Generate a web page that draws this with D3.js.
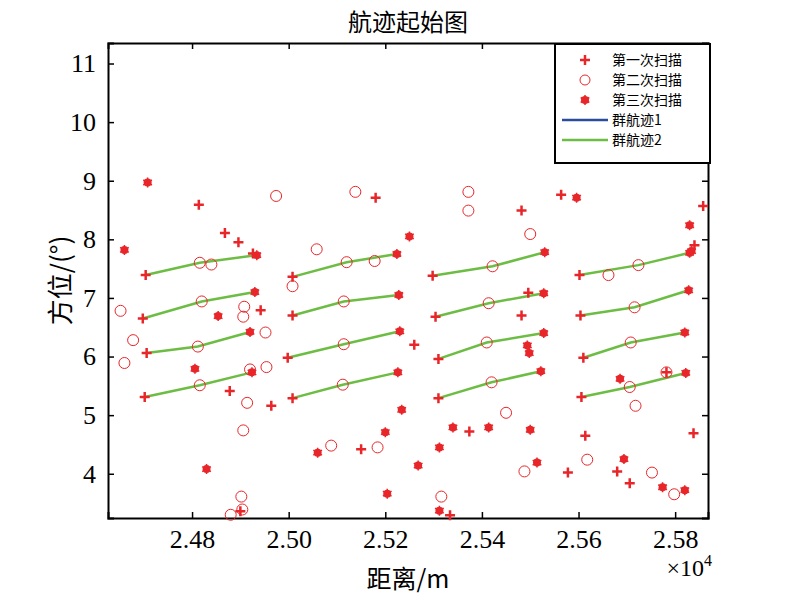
<!DOCTYPE html>
<html><head><meta charset="utf-8">
<script src="https://cdn.jsdelivr.net/npm/d3@7"></script>
<style>body{margin:0;background:#fff}</style>
</head><body>
<div id="chart"></div>
<script>
// track points: [first scan, second scan, third scan] as [range m, bearing deg]
const tracks = [
  [[24704,7.39],[24816,7.60],[24934,7.73]],
  [[24698,6.65],[24820,6.94],[24930,7.10]],
  [[24706,6.06],[24812,6.17],[24920,6.42]],
  [[24702,5.31],[24816,5.51],[24924,5.73]],
  [[25008,7.36],[25120,7.61],[25224,7.75]],
  [[25008,6.70],[25114,6.94],[25228,7.05]],
  [[24998,5.98],[25114,6.21],[25230,6.43]],
  [[25008,5.29],[25112,5.52],[25226,5.73]],
  [[25298,7.38],[25422,7.54],[25530,7.78]],
  [[25304,6.68],[25414,6.91],[25528,7.08]],
  [[25310,5.96],[25410,6.24],[25528,6.40]],
  [[25310,5.29],[25420,5.56],[25522,5.75]],
  [[25602,7.39],[25724,7.56],[25830,7.77]],
  [[25604,6.70],[25716,6.84],[25828,7.13]],
  [[25610,5.98],[25708,6.24],[25820,6.41]],
  [[25606,5.31],[25706,5.48],[25822,5.72]]
];
const scan1 = [[24814,8.59],[25180,8.71],[24868,8.11],[24896,7.95],[24926,7.76],[24942,6.79],
  [25260,6.20],[24878,5.41],[24964,5.16],[25150,4.42],[24900,3.36],[25564,8.76],[25482,8.49],
  [25858,8.57],[25840,7.90],[25496,7.09],[25482,6.70],[25374,4.72],[25334,3.29],[25614,4.65],
  [25578,4.02],[25680,4.04],[25706,3.84],[25838,4.69],[25782,5.73]];
const scan2 = [[24974,8.74],[25138,8.81],[25058,7.83],[25178,7.63],[24840,7.57],[25008,7.20],
  [24652,6.78],[24908,6.85],[24906,6.68],[24678,6.28],[24952,6.41],[24660,5.89],[24920,5.78],
  [24954,5.82],[24914,5.21],[24906,4.74],[25088,4.48],[25184,4.45],[24902,3.61],[24880,3.30],
  [24904,3.39],[25372,8.81],[25372,8.49],[25500,8.09],[25662,7.39],[25450,5.04],[25488,4.04],
  [25618,4.24],[25316,3.61],[25718,5.16],[25782,5.73],[25752,4.02],[25798,3.65]];
const scan3 = [[24708,8.97],[24660,7.82],[24854,6.69],[24806,5.79],[24830,4.08],[25250,8.05],
  [25060,4.36],[25200,4.71],[25234,5.09],[25268,4.14],[25204,3.66],[25596,8.71],[25830,8.24],
  [25494,6.19],[25498,6.06],[25686,5.62],[25340,4.79],[25414,4.79],[25500,4.75],[25312,4.45],
  [25514,4.19],[25312,3.37],[25694,4.25],[25774,3.77],[25820,3.72],[25834,7.80]];
const xTicks = [24800,25000,25200,25400,25600,25800];
const yTicks = [4,5,6,7,8,9,10,11];
const legendLabels = ["第一次扫描","第二次扫描","第三次扫描","群航迹1","群航迹2"];

const red = "#e8262a", green = "#6dbd45", blue = "#2b4b9b";
const W = 796, H = 605;
const margin = {top: 43, right: 88, bottom: 87, left: 108};
const width = W - margin.left - margin.right, height = H - margin.top - margin.bottom;

const svg = d3.select("#chart").append("svg").attr("width", W).attr("height", H)
  .style("font-family", "'Liberation Serif', serif");
const g = svg.append("g").attr("transform", "translate(" + margin.left + "," + margin.top + ")");

const x = d3.scaleLinear().domain([24626, 25868]).range([0, width]);
const y = d3.scaleLinear().domain([3.245, 11.35]).range([height, 0]);

// axes with inward ticks, box on
const fmt = (d) => (d / 10000).toFixed(2);
g.append("g").attr("transform", "translate(0," + height + ")")
  .call(d3.axisBottom(x).tickValues(xTicks).tickSize(-6).tickPadding(12).tickFormat(fmt));
g.append("g").call(d3.axisTop(x).tickValues(xTicks).tickSize(-6).tickFormat(""));
g.append("g").call(d3.axisLeft(y).tickValues(yTicks).tickSize(-6).tickPadding(12));
g.append("g").attr("transform", "translate(" + width + ",0)")
  .call(d3.axisRight(y).tickValues(yTicks).tickSize(-6).tickFormat(""));
g.selectAll(".domain").attr("stroke", "#000").attr("stroke-width", 2);
g.selectAll(".tick line").attr("stroke", "#000").attr("stroke-width", 1.5);
g.selectAll(".tick text").style("font-size", "26px").style("font-family", "'Liberation Serif', serif").attr("fill", "#000");

// track lines
const line = d3.line().x((d) => x(d[0])).y((d) => y(d[1]));
g.append("g").selectAll("path").data(tracks).enter().append("path")
  .attr("d", line).attr("fill", "none").attr("stroke", green).attr("stroke-width", 2.5);

const plus = "M-5,0H5M0,-5V5";
const star = d3.symbol().type(d3.symbolAsterisk).size(70);
const allScan1 = scan1.concat(tracks.map((t) => t[0]));
const allScan2 = scan2.concat(tracks.map((t) => t[1]));
const allScan3 = scan3.concat(tracks.map((t) => t[2]));

g.append("g").selectAll("path").data(allScan1).enter().append("path")
  .attr("transform", (d) => "translate(" + x(d[0]) + "," + y(d[1]) + ")")
  .attr("d", plus).attr("stroke", red).attr("stroke-width", 2.5);
g.append("g").selectAll("circle").data(allScan2).enter().append("circle")
  .attr("cx", (d) => x(d[0])).attr("cy", (d) => y(d[1])).attr("r", 5.5)
  .attr("fill", "none").attr("stroke", red).attr("stroke-width", 1);
const s3 = g.append("g").selectAll("g").data(allScan3).enter().append("g")
  .attr("transform", (d) => "translate(" + x(d[0]) + "," + y(d[1]) + ")");
s3.append("circle").attr("r", 4).attr("fill", red);
s3.append("path").attr("d", star).attr("stroke", red).attr("stroke-width", 1.5).attr("fill", red);

// title and labels
const cjk = "'Noto Sans CJK SC', sans-serif";
svg.append("text").attr("x", margin.left + width / 2).attr("y", 31).attr("text-anchor", "middle")
  .style("font-family", cjk).style("font-size", "24px").text("航迹起始图");
svg.append("text").attr("x", margin.left + width / 2).attr("y", 588).attr("text-anchor", "middle")
  .style("font-family", cjk).style("font-size", "25px").text("距离/m");
svg.append("text").attr("transform", "translate(70," + (margin.top + height / 2) + ") rotate(-90)")
  .attr("text-anchor", "middle").style("font-family", cjk).style("font-size", "26px").text("方位/(°)");
const ex = svg.append("text").attr("x", 712).attr("y", 576).attr("text-anchor", "end").style("font-size", "24px");
ex.append("tspan").text("×10");
ex.append("tspan").attr("dy", -10).style("font-size", "16px").text("4");

// legend
const lg = svg.append("g").attr("transform", "translate(555,44)");
lg.append("rect").attr("width", 155).attr("height", 119).attr("fill", "#fff")
  .attr("stroke", "#000").attr("stroke-width", 2);
legendLabels.forEach(function (t, i) {
  const yy = 16 + i * 20;
  const it = lg.append("g").attr("transform", "translate(30," + yy + ")");
  if (i == 0) it.append("path").attr("d", plus).attr("stroke", red).attr("stroke-width", 2.5);
  if (i == 1) it.append("circle").attr("r", 5).attr("fill", "none").attr("stroke", red);
  if (i == 2) { it.append("circle").attr("r", 4).attr("fill", red); it.append("path").attr("d", star).attr("fill", red).attr("stroke", red).attr("stroke-width", 1.5); }
  if (i >= 3) it.append("line").attr("x1", -23).attr("x2", 23).attr("stroke", i == 3 ? blue : green).attr("stroke-width", 2.5);
  lg.append("text").attr("x", 57).attr("y", yy + 5).style("font-family", cjk).style("font-size", "14px").text(t);
});
</script>
</body></html>
